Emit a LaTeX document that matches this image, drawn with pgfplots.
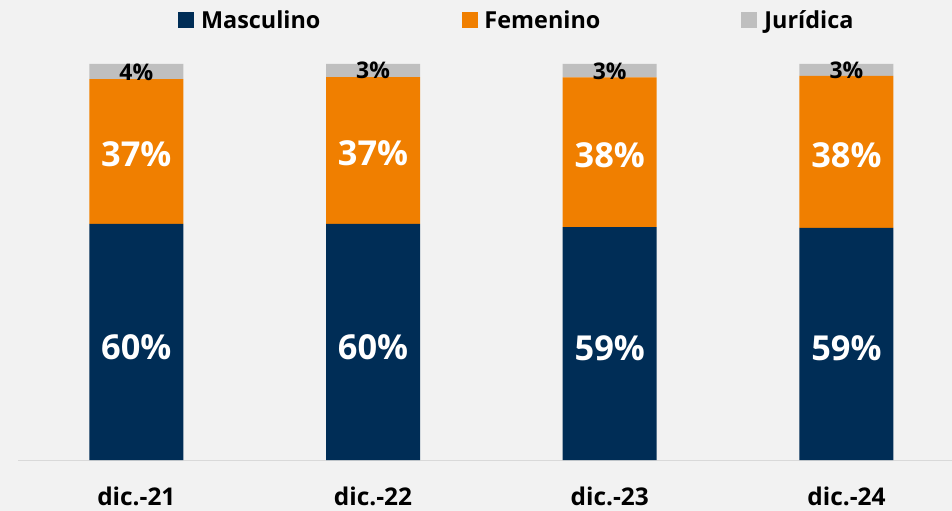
\documentclass[border=0pt]{standalone}
\usepackage{fontspec}
\setmainfont{Open Sans}
\usepackage{pgfplots}
\pgfplotsset{compat=1.18}
\definecolor{bgcol}{RGB}{242,242,242}
\definecolor{masc}{RGB}{0,45,86}
\definecolor{fem}{RGB}{240,127,0}
\definecolor{jur}{RGB}{191,191,191}
\definecolor{baseline}{RGB}{217,217,217}
\newcommand{\bigf}{\fontsize{34.5}{40}\selectfont\bfseries}
\newcommand{\smallf}{\fontsize{23}{27}\selectfont\bfseries}
\newcommand{\legf}{\fontsize{23.5}{28}\selectfont\bfseries}
\newcommand{\tickf}{\fontsize{24.5}{29}\selectfont\bfseries}

\begin{document}
\begin{tikzpicture}
\fill[bgcol] (0,0) rectangle (952bp,511bp);
\useasboundingbox (0,0) rectangle (952bp,511bp);
\begin{axis}[
  at={(18bp,51bp)}, anchor=south west,
  scale only axis,
  width=934bp, height=396bp,
  xmin=-0.5, xmax=3.446,
  ymin=0, ymax=100,
  ybar stacked,
  bar width=94bp,
  hide y axis,
  axis x line*=bottom,
  x axis line style={draw=baseline, line width=1pt, -},
  xtick={0,1,2,3},
  xticklabels={dic.-21,dic.-22,dic.-23,dic.-24},
  xtick style={draw=none},
  xticklabel style={font=\tickf, anchor=center, yshift=-36bp},
  point meta=explicit symbolic,
  nodes near coords={\pgfplotspointmeta\%},
  visualization depends on={rawy \as \rawy},
  every node near coord/.append style={anchor=center,
    shift={(axis direction cs:0,{-0.02*\rawy})}},
  sq/.style={legend image code/.code={\fill[##1] (0bp,-8bp) rectangle (16bp,8bp); \path (21bp,0bp);}},
  legend style={draw=none, fill=none, legend columns=3,
    at={(0.534,1)}, anchor=center, yshift=44bp, font=\legf,
    /tikz/every even column/.append style={column sep=139bp}},
  clip=false
]
\addplot[fill=masc, draw=none, sq,
  every node near coord/.append style={text=white, font=\bigf}]
  coordinates {(0,59.6)[60] (1,59.6)[60] (2,58.8)[59] (3,58.6)[59]};
\addplot[fill=fem, draw=none, sq,
  every node near coord/.append style={text=white, font=\bigf}]
  coordinates {(0,36.6)[37] (1,37.1)[37] (2,37.8)[38] (3,38.4)[38]};
\addplot[fill=jur, draw=none, sq,
  every node near coord/.append style={text=black, font=\smallf}]
  coordinates {(0,3.8)[4] (1,3.3)[3] (2,3.4)[3] (3,3.0)[3]};
\legend{Masculino,Femenino,Jurídica}
\end{axis}
\end{tikzpicture}
\end{document}
